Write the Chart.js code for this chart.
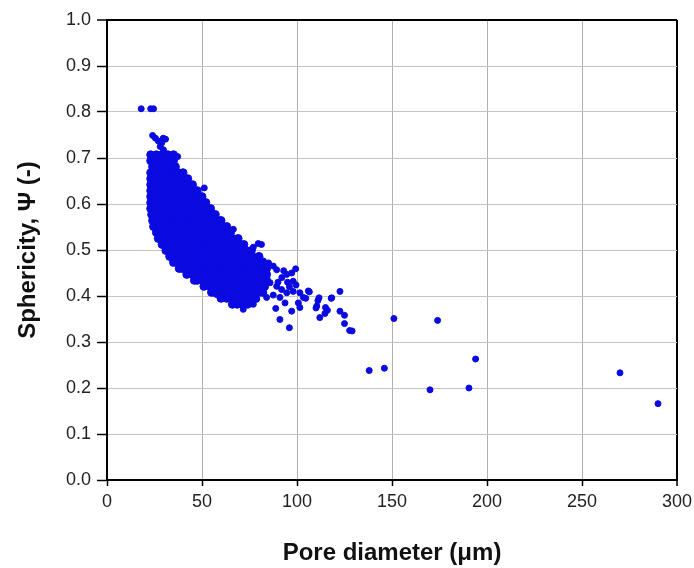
<!DOCTYPE html>
<html>
<head>
<meta charset="utf-8">
<script src="https://cdn.jsdelivr.net/npm/chart.js@4.4.1/dist/chart.umd.min.js"></script>
<style>
  html, body { margin: 0; padding: 0; background: #fff; }
  #wrap { width: 694px; height: 568px; }
</style>
</head>
<body>
<div id="wrap"><canvas id="chart_sphericity" width="694" height="568"></canvas></div>
<script>
// dense cloud, one row of pore diameters per sphericity level
var cloudY = [0.707, 0.694, 0.681, 0.668, 0.655, 0.642, 0.629, 0.616, 0.603, 0.590, 0.577, 0.564, 0.551,
  0.538, 0.525, 0.512, 0.499, 0.486, 0.473, 0.460, 0.447, 0.434, 0.421, 0.408, 0.395, 0.382];
var cloudX = [
  [23, 26, 29, 32, 35],
  [23, 24.5, 27.5, 30.5, 33.5, 35],
  [24, 27, 30, 33, 36],
  [23, 25.5, 28.5, 31.5, 34.5, 37.5, 40],
  [23, 26, 29, 32, 35, 38, 41, 42.5],
  [23, 24.5, 27.5, 30.5, 33.5, 36.5, 39.5, 42.5, 45],
  [23, 26, 29, 32, 35, 38, 41, 44, 47.5],
  [23, 24.5, 27.5, 30.5, 33.5, 36.5, 39.5, 42.5, 45.5, 48.5, 50],
  [23, 26, 29, 32, 35, 38, 41, 44, 47, 50, 52],
  [23, 24.5, 27.5, 30.5, 33.5, 36.5, 39.5, 42.5, 45.5, 48.5, 51.5, 54.5],
  [23.5, 26.5, 29.5, 32.5, 35.5, 38.5, 41.5, 44.5, 47.5, 50.5, 53.5, 57],
  [24, 25.5, 28.5, 31.5, 34.5, 37.5, 40.5, 43.5, 46.5, 49.5, 52.5, 55.5, 58.5, 60],
  [24.5, 27.5, 30.5, 33.5, 36.5, 39.5, 42.5, 45.5, 48.5, 51.5, 54.5, 57.5, 60.5, 63],
  [26, 27.5, 30.5, 33.5, 36.5, 39.5, 42.5, 45.5, 48.5, 51.5, 54.5, 57.5, 60.5, 63.5, 65],
  [27, 30, 33, 36, 39, 42, 45, 48, 51, 54, 57, 60, 63, 66, 69],
  [29, 30.5, 33.5, 36.5, 39.5, 42.5, 45.5, 48.5, 51.5, 54.5, 57.5, 60.5, 63.5, 66.5, 69.5, 72],
  [31, 34, 37, 40, 43, 46, 49, 52, 55, 58, 61, 64, 67, 70, 73, 76],
  [33, 34.5, 37.5, 40.5, 43.5, 46.5, 49.5, 52.5, 55.5, 58.5, 61.5, 64.5, 67.5, 70.5, 73.5, 76.5, 80],
  [35, 38, 41, 44, 47, 50, 53, 56, 59, 62, 65, 68, 71, 74, 77, 80, 82],
  [38, 39.5, 42.5, 45.5, 48.5, 51.5, 54.5, 57.5, 60.5, 63.5, 66.5, 69.5, 72.5, 75.5, 78.5, 81.5, 84],
  [42, 45, 48, 51, 54, 57, 60, 63, 66, 69, 72, 75, 78, 81, 84],
  [46, 47.5, 50.5, 53.5, 56.5, 59.5, 62.5, 65.5, 68.5, 71.5, 74.5, 77.5, 80.5, 84],
  [51, 54, 57, 60, 63, 66, 69, 72, 75, 78, 81, 83],
  [55, 56.5, 59.5, 62.5, 65.5, 68.5, 71.5, 74.5, 77.5, 80.5, 82],
  [60, 63, 66, 69, 72, 75, 78],
  [66, 68.5, 71.5, 74]
];

// scattered pores around and beyond the cloud
var sparseX = [18, 23, 24.5, 24, 25.5, 27, 28.8, 29.6, 30.8, 29.7, 28, 37.2, 51.2, 66.5,
  77, 79.6, 81.3, 82.3, 85, 87.5, 89.3, 94.6, 97.2, 99.3, 98,
  85.8, 89.3, 91.9, 94.6, 98, 101.5, 106, 103.3, 91, 93.7, 100.7, 87.5, 84,
  92, 95, 90, 96, 99.5, 93,
  88.8, 97.2, 101.5, 91, 96,
  110.4, 112, 118.3, 122.6, 122.6, 125, 125, 127.7, 129, 111, 115,
  106.5, 104.6, 111.6, 110, 116, 114.7, 118,
  57.7, 71.7, 77, 78.8,
  138, 146, 151, 170, 174, 190.5, 194, 270, 290];
var sparseY = [0.807, 0.807, 0.807, 0.749, 0.743, 0.737, 0.733, 0.743, 0.741, 0.718, 0.725, 0.703, 0.635, 0.545,
  0.506, 0.514, 0.512, 0.476, 0.472, 0.465, 0.457, 0.447, 0.45, 0.459, 0.432,
  0.429, 0.421, 0.414, 0.407, 0.41, 0.407, 0.411, 0.397, 0.397, 0.385, 0.385, 0.402, 0.397,
  0.44, 0.43, 0.43, 0.42, 0.424, 0.455,
  0.373, 0.367, 0.375, 0.349, 0.331,
  0.378, 0.353, 0.396, 0.41, 0.367, 0.358, 0.34, 0.325, 0.324, 0.39, 0.375,
  0.409, 0.395, 0.396, 0.374, 0.369, 0.362, 0.395,
  0.403, 0.371, 0.382, 0.393,
  0.238, 0.243, 0.351, 0.196, 0.347, 0.2, 0.263, 0.233, 0.166];

var xTicksMax = 300;
var yTicksMax = 1.0;

var cloudPoints = [];
cloudY.forEach(function(y, i) {
  cloudX[i].forEach(function(x) { cloudPoints.push({x: x, y: y}); });
});
var sparsePoints = sparseX.map(function(x, i) { return {x: x, y: sparseY[i]}; });

var BLUE = 'rgb(10, 10, 225)';
var FONT = "'Liberation Sans', Arial, sans-serif";

var chart_sphericity = new Chart(document.getElementById('chart_sphericity'), {
  type: 'scatter',
  data: {
    datasets: [{
      label: 'Pores (cloud)',
      data: cloudPoints,
      backgroundColor: BLUE,
      borderColor: BLUE,
      borderWidth: 1,
      pointRadius: 4,
      pointHoverRadius: 4
    }, {
      label: 'Pores',
      data: sparsePoints,
      backgroundColor: BLUE,
      borderColor: BLUE,
      borderWidth: 1,
      pointRadius: 3,
      pointHoverRadius: 3
    }]
  },
  options: {
    animation: false,
    responsive: false,
    devicePixelRatio: 1,
    layout: { padding: { top: 20, right: 17, left: 0, bottom: 0 } },
    plugins: {
      legend: { display: false },
      tooltip: { enabled: false }
    },
    scales: {
      x: {
        type: 'linear',
        min: 0,
        max: xTicksMax,
        afterFit: function(scale) {
          scale.height = 88;
          scale.paddingLeft = 0;
          scale.paddingRight = 0;
        },
        title: {
          display: true,
          text: 'Pore diameter (μm)',
          color: '#111',
          font: { family: FONT, size: 24, weight: 'bold' },
          padding: { top: 0, bottom: 0 }
        },
        ticks: {
          stepSize: 50,
          autoSkip: false,
          maxRotation: 0,
          padding: 5,
          color: '#222',
          font: { family: FONT, size: 18 }
        },
        grid: {
          color: function(ctx) { return ctx.tick && ctx.tick.value === xTicksMax ? '#000' : '#b0b0b0'; },
          lineWidth: function(ctx) { return ctx.tick && ctx.tick.value === xTicksMax ? 2 : 1; },
          tickColor: '#000',
          tickWidth: 1.5,
          tickLength: 6
        },
        border: { display: true, color: '#000', width: 2 }
      },
      y: {
        type: 'linear',
        min: 0,
        max: yTicksMax,
        afterFit: function(scale) {
          scale.width = 107;
          scale.paddingTop = 0;
          scale.paddingBottom = 0;
        },
        title: {
          display: true,
          text: 'Sphericity, Ψ (-)',
          color: '#111',
          font: { family: FONT, size: 24, weight: 'bold' },
          padding: { top: 14, bottom: 0 }
        },
        ticks: {
          stepSize: 0.1,
          padding: 6,
          color: '#222',
          font: { family: FONT, size: 18 },
          callback: function(value) { return Number(value).toFixed(1); }
        },
        grid: {
          color: function(ctx) { return ctx.tick && Math.abs(ctx.tick.value - yTicksMax) < 1e-9 ? '#000' : '#c4c4c4'; },
          lineWidth: function(ctx) { return ctx.tick && Math.abs(ctx.tick.value - yTicksMax) < 1e-9 ? 2 : 1; },
          tickColor: '#000',
          tickWidth: 1.5,
          tickLength: 10
        },
        border: { display: true, color: '#000', width: 2 }
      }
    }
  },
  plugins: [{
    id: 'whiteBackground',
    beforeDraw: function(chart) {
      var ctx = chart.canvas.getContext('2d');
      ctx.save();
      ctx.globalCompositeOperation = 'destination-over';
      ctx.fillStyle = 'white';
      ctx.fillRect(0, 0, chart.canvas.width, chart.canvas.height);
      ctx.restore();
    }
  }]
});
</script>
</body>
</html>
